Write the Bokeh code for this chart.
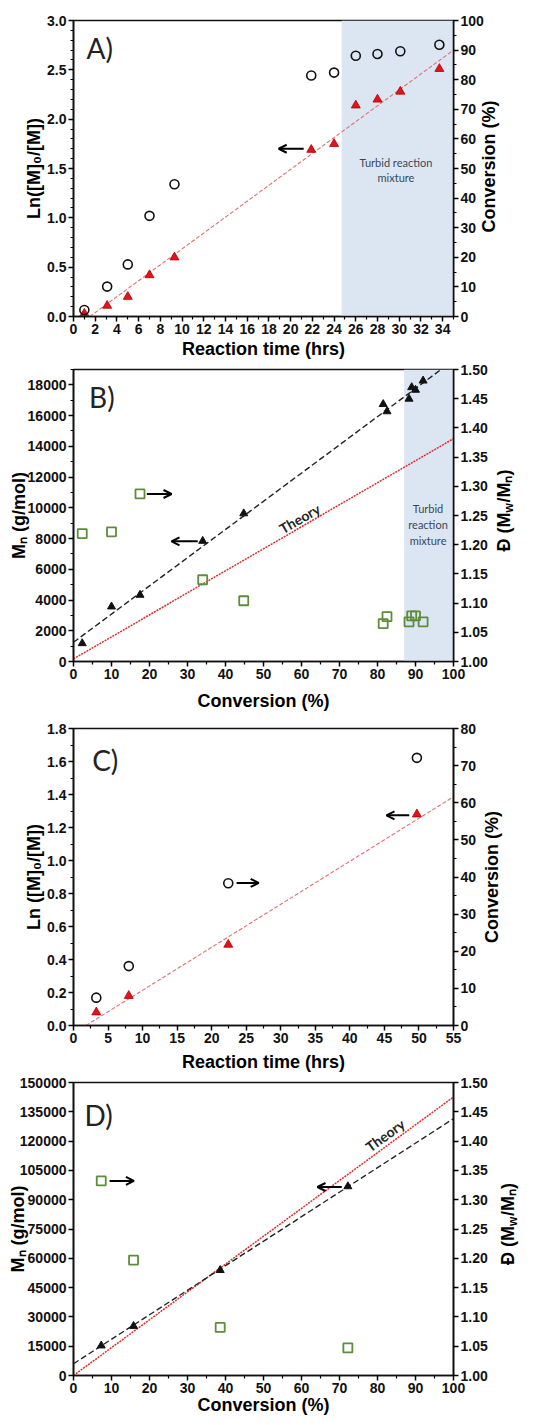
import math
from bokeh.plotting import figure
from bokeh.models import (Range1d, LinearAxis, FixedTicker, Label, Arrow, OpenHead,
                          BoxAnnotation, NumeralTickFormatter)
from bokeh.layouts import column
from bokeh.embed import file_html
from bokeh.resources import INLINE

# ---------------- Panel A data ----------------
a_time = [1.0, 3.1, 5.0, 7.0, 9.3, 21.9, 24.0, 26.0, 28.0, 30.1, 33.7]
a_ln = [0.03, 0.11, 0.20, 0.42, 0.60, 1.69, 1.75, 2.14, 2.20, 2.28, 2.51]
a_conv = [2.2, 10.1, 17.6, 34.0, 44.7, 81.4, 82.4, 88.1, 88.7, 89.6, 91.8]
a_fit_x = [1.5, 35.0]
a_fit_y = [0.0, 2.70]
a_turbid_from = 24.7
a_x_ticks = [0, 2, 4, 6, 8, 10, 12, 14, 16, 18, 20, 22, 24, 26, 28, 30, 32, 34]
a_y_ticks = [0.0, 0.5, 1.0, 1.5, 2.0, 2.5, 3.0]
a_y2_ticks = [0, 10, 20, 30, 40, 50, 60, 70, 80, 90, 100]

# ---------------- Panel B data ----------------
b_conv = [2.3, 10.0, 17.5, 34.0, 44.8, 81.5, 82.5, 88.3, 89.0, 90.0, 92.0]
b_mn = [1180, 3570, 4330, 7840, 9630, 16740, 16270, 17090, 17840, 17670, 18270]
b_disp = [1.219, 1.222, 1.287, 1.140, 1.104, 1.065, 1.077, 1.068, 1.078, 1.078, 1.068]
b_fit_x = [0.0, 100.0]
b_fit_y = [1250, 19600]
b_theory_x = [0.0, 100.0]
b_theory_y = [170, 14500]
b_turbid_from = 87.0
b_x_ticks = [0, 10, 20, 30, 40, 50, 60, 70, 80, 90, 100]
b_y_ticks = [0, 2000, 4000, 6000, 8000, 10000, 12000, 14000, 16000, 18000]
b_y2_ticks = [1.00, 1.05, 1.10, 1.15, 1.20, 1.25, 1.30, 1.35, 1.40, 1.45, 1.50]

# ---------------- Panel C data ----------------
c_time = [3.3, 8.0, 22.4, 49.7]
c_ln = [0.08, 0.18, 0.49, 1.28]
c_conv = [7.5, 16.0, 38.3, 72.1]
c_fit_x = [1.8, 55.0]
c_fit_y = [0.0, 1.386]
c_x_ticks = [0, 5, 10, 15, 20, 25, 30, 35, 40, 45, 50, 55]
c_y_ticks = [0.0, 0.2, 0.4, 0.6, 0.8, 1.0, 1.2, 1.4, 1.6, 1.8]
c_y2_ticks = [0, 10, 20, 30, 40, 50, 60, 70, 80]

# ---------------- Panel D data ----------------
d_conv = [7.3, 15.8, 38.6, 72.2]
d_mn = [15300, 25300, 53900, 96800]
d_disp = [1.332, 1.197, 1.082, 1.047]
d_fit_x = [0.0, 100.0]
d_fit_y = [6000, 131500]
d_theory_x = [0.0, 100.0]
d_theory_y = [0, 142600]
d_x_ticks = [0, 10, 20, 30, 40, 50, 60, 70, 80, 90, 100]
d_y_ticks = [0, 15000, 30000, 45000, 60000, 75000, 90000, 105000, 120000, 135000, 150000]
d_y2_ticks = [1.00, 1.05, 1.10, 1.15, 1.20, 1.25, 1.30, 1.35, 1.40, 1.45, 1.50]

# arrows: (x_start, y_start, x_end, y_end) in left-axis units
a_arrows = [(21.2, 1.70, 18.9, 1.70)]
b_arrows = [(19.3, 10900, 25.8, 10900), (32.7, 7820, 25.8, 7820)]
c_arrows = [(23.6, 0.864, 26.8, 0.864), (48.6, 1.274, 45.3, 1.274)]
d_arrows = [(9.5, 99600, 15.9, 99600), (70.6, 96500, 64.2, 96500)]

# ---------------- styling helpers ----------------
W_TOTAL = 537
AX_FONT = "Liberation Sans"
NOTE_FONT = "Lato"
SHADE = "#dce6f2"
RED = "#e3121b"
GREEN = "#5d8d3b"
TITLE_SIZE = 18
SUB_SIZE = 12

CW = {" ": 278, "%": 889, "(": 333, ")": 333, "/": 278, ".": 278, "[": 333, "]": 333,
      "\u2007": 556, "\u2099": 420, "\u0110": 722, "M": 833, "w": 778}


def text_width(s, size):
    return sum(CW.get(ch, 556) for ch in s) / 1000.0 * size


def style_axis(ax, ticks, minor, fmt, size="14px"):
    ax.ticker = FixedTicker(ticks=ticks, minor_ticks=minor)
    ax.formatter = NumeralTickFormatter(format=fmt)
    ax.axis_line_width = 1.6
    ax.axis_line_color = "#111111"
    ax.major_tick_line_width = 1.5
    ax.minor_tick_line_width = 1.2
    ax.major_tick_in = 0
    ax.major_tick_out = 5
    ax.minor_tick_in = 0
    ax.minor_tick_out = 3
    ax.major_label_text_font = AX_FONT
    ax.major_label_text_font_style = "bold"
    ax.major_label_text_font_size = size
    ax.major_label_text_color = "#111111"
    ax.major_label_standoff = 2
    ax.axis_label_text_font = AX_FONT
    ax.axis_label_text_font_style = "bold"
    ax.axis_label_text_font_size = f"{TITLE_SIZE}px"
    ax.axis_label_text_color = "black"


def set_title(ax, text, standoff):
    ax.axis_label = text
    ax.axis_label_standoff = standoff


def make_fig(height, xr, yr, yr2, bl, br, bt, bb):
    p = figure(width=W_TOTAL, height=height, x_range=Range1d(*xr), y_range=Range1d(*yr),
               output_backend="svg", toolbar_location=None,
               min_border_left=bl, min_border_right=br, min_border_top=bt,
               min_border_bottom=bb)
    p.extra_y_ranges = {"right": Range1d(*yr2)}
    p.add_layout(LinearAxis(y_range_name="right"), "right")
    p.grid.visible = False
    p.outline_line_color = "#111111"
    p.outline_line_width = 1.6
    p.background_fill_color = "white"
    p.border_fill_color = "white"
    return p


def panel_tag(p, x, y, text):
    p.add_layout(Label(x=x, y=y, text=text, text_align="left", text_baseline="middle",
                       text_font=NOTE_FONT, text_font_size="28px", text_color="#222222"))


def note(p, x, y, text, size=11):
    p.add_layout(Label(x=x, y=y, text=text, text_align="center", text_baseline="middle",
                       text_font=NOTE_FONT, text_font_size=f"{size}px", text_color="#3a4656"))


def arrows(p, arr):
    for xs, ys, xe, ye in arr:
        p.add_layout(Arrow(end=OpenHead(size=8, line_width=2, line_color="black"),
                           x_start=xs, y_start=ys, x_end=xe, y_end=ye,
                           line_width=2, line_color="black"))


def theory_label(p, x, y, angle_deg):
    p.add_layout(Label(x=x, y=y, text="Theory", angle=angle_deg, angle_units="deg",
                       text_align="center", text_baseline="middle", text_font=NOTE_FONT,
                       text_font_style="bold", text_font_size="14px", text_color="#222222"))


def right_title(p, x, y, xoff, yoff, text):
    # vertical title reading bottom-to-top, drawn in the right side panel
    p.add_layout(Label(x=x, y=y, x_offset=xoff, y_offset=yoff, text=text,
                       angle=math.pi / 2, text_align="center", text_baseline="middle",
                       text_font=AX_FONT, text_font_style="bold",
                       text_font_size=f"{TITLE_SIZE}px", text_color="black"), "right")


def dispersity_title(p, x, y, xoff, yoff):
    # "Đ (M_w/M_n)" : main text with a gap for the subscript w
    main = "\u0110 (M\u2007/M\u2099)"
    total = text_width(main, TITLE_SIZE)
    right_title(p, x, y, xoff, yoff, main)
    w_start = -total / 2 + text_width("\u0110 (M", TITLE_SIZE) + 0.4
    p.add_layout(Label(x=x, y=y, x_offset=xoff + 5, y_offset=yoff + w_start, text="w",
                       angle=math.pi / 2, text_align="left", text_baseline="middle",
                       text_font=AX_FONT, text_font_style="bold",
                       text_font_size=f"{SUB_SIZE}px", text_color="black"), "right")


# ---------------- Panel A ----------------
pA = make_fig(361, (0, 35), (0, 3.0), (0, 100), 65, 84, 20, 45)
style_axis(pA.xaxis[0], a_x_ticks, [v + 1 for v in a_x_ticks], "0")
style_axis(pA.yaxis[0], a_y_ticks, [v / 10 for v in range(0, 31)], "0.0")
style_axis(pA.yaxis[1], a_y2_ticks, [v + 5 for v in a_y2_ticks[:-1]], "0")
set_title(pA.xaxis[0], "Reaction time (hrs)", 2)
set_title(pA.yaxis[0], "Ln([M]\u2080/[M])", 0)
pA.add_layout(BoxAnnotation(left=a_turbid_from, fill_color=SHADE, fill_alpha=1.0,
                            line_color=None, level="underlay"))
pA.line(a_fit_x, a_fit_y, line_color="#e07070", line_dash="4 2", line_width=1.1)
pA.scatter(a_time, a_ln, marker="triangle", size=9, fill_color=RED, line_color="#b00000",
           line_width=0.8)
pA.scatter(a_time, a_conv, marker="circle", size=9, fill_color=None, line_color="#111111",
           line_width=1.6, y_range_name="right")
arrows(pA, a_arrows)
panel_tag(pA, 1.2, 2.72, "A)")
note(pA, 29.7, 1.56, "Turbid reaction")
note(pA, 29.7, 1.41, "mixture")
right_title(pA, 35, 1.5, 35, 2, "Conversion (%)")

# ---------------- Panel B ----------------
pB = make_fig(355, (0, 100), (0, 19000), (1.0, 1.5), 69, 82, 8, 55)
style_axis(pB.xaxis[0], b_x_ticks, [v + 5 for v in b_x_ticks[:-1]], "0")
style_axis(pB.yaxis[0], b_y_ticks, [v + 1000 for v in b_y_ticks], "0")
style_axis(pB.yaxis[1], b_y2_ticks, [], "0.00")
set_title(pB.xaxis[0], "Conversion (%)", 9)
set_title(pB.yaxis[0], "M\u2099 (g/mol)", -4)
pB.add_layout(BoxAnnotation(left=b_turbid_from, fill_color=SHADE, fill_alpha=1.0,
                            line_color=None, level="underlay"))
pB.line(b_theory_x, b_theory_y, line_color="#e02a2a", line_dash="2 1", line_width=1.5)
pB.line(b_fit_x, b_fit_y, line_color="#222222", line_dash="6 3", line_width=1.4)
pB.scatter(b_conv, b_mn, marker="triangle", size=8, fill_color="#111111",
           line_color="#111111")
pB.scatter(b_conv, b_disp, marker="square", size=9, fill_color=None, line_color=GREEN,
           line_width=1.8, y_range_name="right")
arrows(pB, b_arrows)
panel_tag(pB, 4.1, 17200, "B)")
note(pB, 93.3, 9950, "Turbid")
note(pB, 93.3, 8920, "reaction")
note(pB, 93.3, 7890, "mixture")
theory_label(pB, 59.5, 9300, 30)
dispersity_title(pB, 100, 9500, 50, 5)

# ---------------- Panel C ----------------
pC = make_fig(358, (0, 55), (0, 1.8), (0, 80), 64, 84, 12, 49)
style_axis(pC.xaxis[0], c_x_ticks, [v + 2.5 for v in c_x_ticks[:-1]], "0")
style_axis(pC.yaxis[0], c_y_ticks, [v + 0.1 for v in c_y_ticks[:-1]], "0.0")
style_axis(pC.yaxis[1], c_y2_ticks, [v + 5 for v in c_y2_ticks[:-1]], "0")
set_title(pC.xaxis[0], "Reaction time (hrs)", 6)
set_title(pC.yaxis[0], "Ln ([M]\u2080/[M])", 0)
pC.line(c_fit_x, c_fit_y, line_color="#e07070", line_dash="4 2", line_width=1.1)
pC.scatter(c_time, c_ln, marker="triangle", size=9, fill_color=RED, line_color="#b00000",
           line_width=0.8)
pC.scatter(c_time, c_conv, marker="circle", size=9, fill_color=None, line_color="#111111",
           line_width=1.6, y_range_name="right")
arrows(pC, c_arrows)
panel_tag(pC, 2.7, 1.61, "C)")
right_title(pC, 55, 0.9, 38, 0, "Conversion (%)")

# ---------------- Panel D ----------------
pD = make_fig(343, (0, 100), (0, 150000), (1.0, 1.5), 73, 79, 8, 42)
style_axis(pD.xaxis[0], d_x_ticks, [v + 5 for v in d_x_ticks[:-1]], "0")
style_axis(pD.yaxis[0], d_y_ticks, [], "0")
style_axis(pD.yaxis[1], d_y2_ticks, [], "0.00")
set_title(pD.xaxis[0], "Conversion (%)", -1)
set_title(pD.yaxis[0], "M\u2099 (g/mol)", -11)
pD.line(d_theory_x, d_theory_y, line_color="#e02a2a", line_dash="2 1", line_width=1.5)
pD.line(d_fit_x, d_fit_y, line_color="#222222", line_dash="6 3", line_width=1.4)
pD.scatter(d_conv, d_mn, marker="triangle", size=8, fill_color="#111111",
           line_color="#111111")
pD.scatter(d_conv, d_disp, marker="square", size=9, fill_color=None, line_color=GREEN,
           line_width=1.8, y_range_name="right")
arrows(pD, d_arrows)
panel_tag(pD, 2.9, 133600, "D)")
theory_label(pD, 82, 123000, 36)
dispersity_title(pD, 100, 75000, 54, 5)

layout = column(pA, pB, pC, pD)
open("out.html", "w").write(file_html(layout, INLINE))
